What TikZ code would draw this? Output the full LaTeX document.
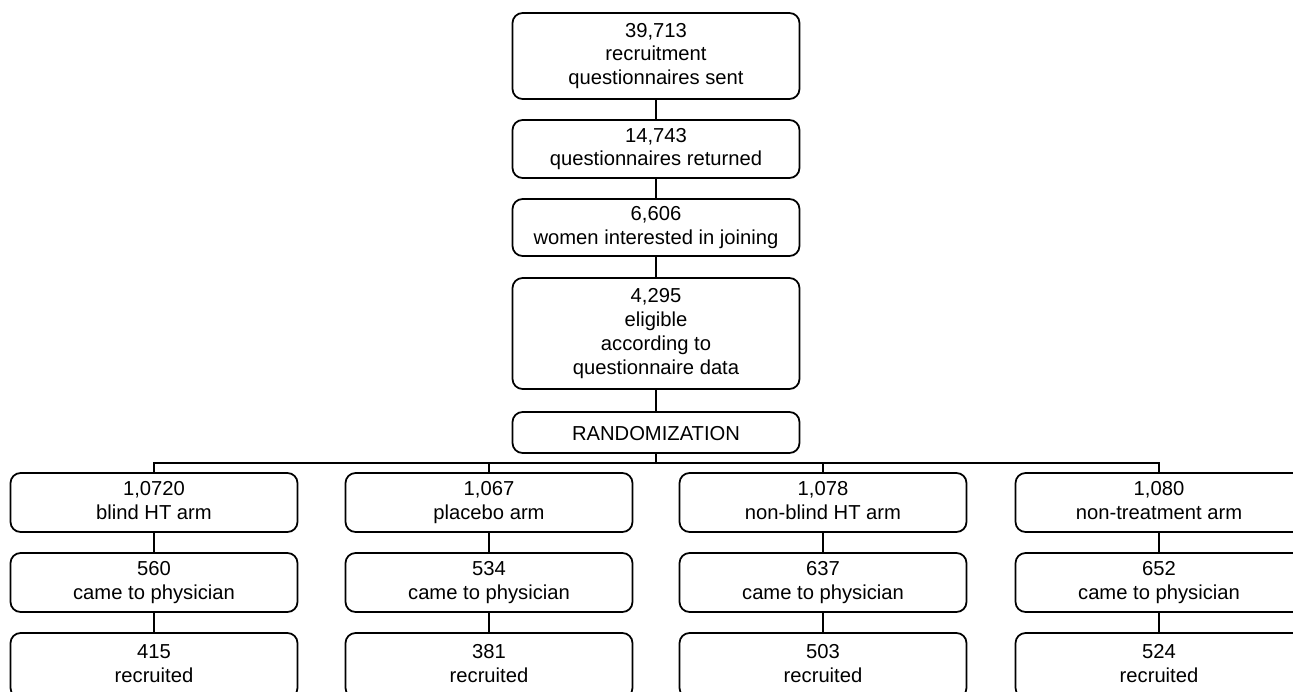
\documentclass[tikz,border=0pt]{standalone}
\usepackage{fontspec}
\setmainfont{Liberation Sans}
\tikzset{box/.style={draw,line width=1pt,rounded corners=0.2cm,align=center,
  minimum width=5.74cm,inner sep=0pt,font=\fontsize{11.5}{13.5}\selectfont,
  execute at begin node=\rule{0pt}{0.95em},execute at end node=\vphantom{p}}}
\begin{document}
\begin{tikzpicture}[x=0.02cm,y=-0.02cm,line width=1pt]
\useasboundingbox (0,0) rectangle (1293,692);
\node [box,minimum height=1.72cm] (sent) at (656,56) {39,713\\recruitment\\questionnaires sent};
\node [box,minimum height=1.16cm] (returned) at (656,149) {14,743\\questionnaires returned};
\node [box,minimum height=1.14cm] (interested) at (656,227.5) {6,606\\women interested in joining};
\node [box,minimum height=2.22cm] (eligible) at (656,333.5) {4,295\\eligible\\according to\\questionnaire data};
\node [box,minimum height=0.82cm] (random) at (656,432.5) {RANDOMIZATION};
\coordinate (bus) at (656,463);
\draw (sent) -- (returned);
\draw (returned) -- (interested);
\draw (interested) -- (eligible);
\draw (eligible) -- (random);
\draw (random) -- (bus);
\def\arm#1#2#3#4#5#6{
\node [box,minimum height=1.18cm] (#1arm) at (#2,502.5) {#3\\#4};
\node [box,minimum height=1.18cm] (#1came) at (#2,582.5) {#5\\came to physician};
\node [box,minimum height=1.3cm] (#1recr) at (#2,665.5) {#6\\recruited};
\draw (bus) -| (#1arm);
\draw (#1arm) -- (#1came);
\draw (#1came) -- (#1recr);
}
\arm{blind}{154}{1,0720}{blind HT arm}{560}{415}
\arm{placebo}{489}{1,067}{placebo arm}{534}{381}
\arm{open}{823}{1,078}{non-blind HT arm}{637}{503}
\arm{none}{1159}{1,080}{non-treatment arm}{652}{524}
\end{tikzpicture}
\end{document}
